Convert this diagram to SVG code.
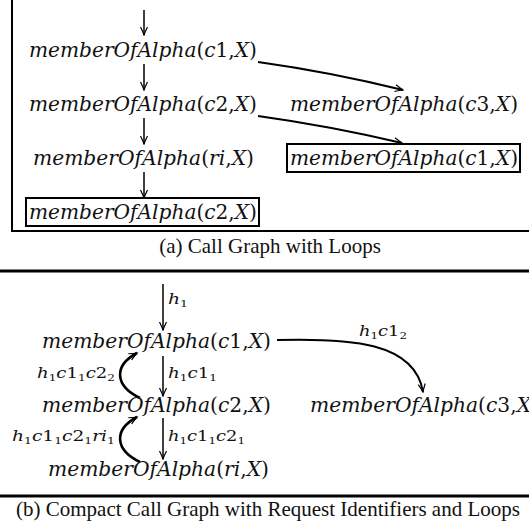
<svg xmlns="http://www.w3.org/2000/svg" width="529" height="527" viewBox="0 0 529 527">
<style>
.m{font-family:"DejaVu Serif","Liberation Serif",serif;font-style:italic;font-size:20px;fill:#111}
.r{font-style:normal}
.lb{font-family:"DejaVu Serif","Liberation Serif",serif;font-style:italic;font-size:15px;fill:#111}
.s{font-size:10px;font-style:normal}
.cap{font-family:"Liberation Serif","Times New Roman",serif;font-size:21px;fill:#111}
.e{fill:none;stroke:#000;stroke-width:1.5}
.ek{fill:none;stroke:#000;stroke-width:2}
.eb{fill:none;stroke:#000;stroke-width:2.6}
.box{fill:none;stroke:#000;stroke-width:2}
.rule{stroke:#000;stroke-width:3}
</style>
<defs>
<marker id="v" viewBox="-10 -5 11 10" markerWidth="11" markerHeight="10" refX="0" refY="0" orient="auto" markerUnits="userSpaceOnUse">
<path d="M-8,-3.5 Q-3,-1 0,0 Q-3,1 -8,3.5" fill="none" stroke="#000" stroke-width="1.2"/>
</marker>
</defs>
<rect width="529" height="527" fill="#fff"/>

<g id="frameA">
<path d="M12,0 V231 H529" fill="none" stroke="#000" stroke-width="2"/>
</g>

<g id="connectorsA">
<path class="e" d="M144,10 V35" marker-end="url(#v)"/>
<path class="e" d="M144,64 V90" marker-end="url(#v)"/>
<path class="e" d="M144,118 V144" marker-end="url(#v)"/>
<path class="e" d="M144,172 V198" marker-end="url(#v)"/>
<path class="ek" d="M258,62 Q330,72 403,90" marker-end="url(#v)"/>
<path class="ek" d="M258,116 Q330,126 402,143" marker-end="url(#v)"/>
</g>

<g id="a_c1"><text class="m" x="29" y="57" textLength="228" lengthAdjust="spacingAndGlyphs">memberOfAlpha<tspan class="r">(</tspan>c<tspan class="r">1,</tspan>X<tspan class="r">)</tspan></text></g>
<g id="a_c2"><text class="m" x="29" y="111" textLength="228" lengthAdjust="spacingAndGlyphs">memberOfAlpha<tspan class="r">(</tspan>c<tspan class="r">2,</tspan>X<tspan class="r">)</tspan></text></g>
<g id="a_c3"><text class="m" x="290" y="111" textLength="228" lengthAdjust="spacingAndGlyphs">memberOfAlpha<tspan class="r">(</tspan>c<tspan class="r">3,</tspan>X<tspan class="r">)</tspan></text></g>
<g id="a_ri"><text class="m" x="33" y="165" textLength="221" lengthAdjust="spacingAndGlyphs">memberOfAlpha<tspan class="r">(</tspan>ri<tspan class="r">,</tspan>X<tspan class="r">)</tspan></text></g>
<g id="a_c1box"><rect class="box" x="287" y="144" width="233" height="28"/><text class="m" x="290" y="165" textLength="228" lengthAdjust="spacingAndGlyphs">memberOfAlpha<tspan class="r">(</tspan>c<tspan class="r">1,</tspan>X<tspan class="r">)</tspan></text></g>
<g id="a_c2box"><rect class="box" x="26" y="198" width="233" height="28"/><text class="m" x="29" y="219" textLength="228" lengthAdjust="spacingAndGlyphs">memberOfAlpha<tspan class="r">(</tspan>c<tspan class="r">2,</tspan>X<tspan class="r">)</tspan></text></g>

<text class="cap" x="270" y="253" text-anchor="middle">(a)  Call Graph with Loops</text>

<line class="rule" x1="0" y1="271" x2="529" y2="271"/>

<g id="connectorsB">
<path class="e" d="M163,284 V330" marker-end="url(#v)"/>
<path class="e" d="M163,356 V396" marker-end="url(#v)"/>
<path class="e" d="M163,418 V459" marker-end="url(#v)"/>
<path class="ek" d="M277,340 C350,338 415,342 423,392" marker-end="url(#v)"/>
<path class="eb" d="M140,398 C115,386 113,366 137,353" marker-end="url(#v)"/>
<path class="eb" d="M140,462 C115,450 113,430 137,417" marker-end="url(#v)"/>
</g>

<g id="labelsB">
<text class="lb" x="168" y="304" textLength="20" lengthAdjust="spacingAndGlyphs">h<tspan class="s" dy="3">1</tspan></text>
<text class="lb" x="359" y="336" textLength="48" lengthAdjust="spacingAndGlyphs">h<tspan class="s" dy="3">1</tspan><tspan dy="-3">c</tspan><tspan class="r">1</tspan><tspan class="s" dy="3">2</tspan></text>
<text class="lb" x="37" y="378" textLength="78" lengthAdjust="spacingAndGlyphs">h<tspan class="s" dy="3">1</tspan><tspan dy="-3">c</tspan><tspan class="r">1</tspan><tspan class="s" dy="3">1</tspan><tspan dy="-3">c</tspan><tspan class="r">2</tspan><tspan class="s" dy="3">2</tspan></text>
<text class="lb" x="168" y="378" textLength="49" lengthAdjust="spacingAndGlyphs">h<tspan class="s" dy="3">1</tspan><tspan dy="-3">c</tspan><tspan class="r">1</tspan><tspan class="s" dy="3">1</tspan></text>
<text class="lb" x="12" y="441" textLength="103" lengthAdjust="spacingAndGlyphs">h<tspan class="s" dy="3">1</tspan><tspan dy="-3">c</tspan><tspan class="r">1</tspan><tspan class="s" dy="3">1</tspan><tspan dy="-3">c</tspan><tspan class="r">2</tspan><tspan class="s" dy="3">1</tspan><tspan dy="-3">ri</tspan><tspan class="s" dy="3">1</tspan></text>
<text class="lb" x="168" y="441" textLength="77" lengthAdjust="spacingAndGlyphs">h<tspan class="s" dy="3">1</tspan><tspan dy="-3">c</tspan><tspan class="r">1</tspan><tspan class="s" dy="3">1</tspan><tspan dy="-3">c</tspan><tspan class="r">2</tspan><tspan class="s" dy="3">1</tspan></text>
</g>

<g id="b_c1"><text class="m" x="42" y="348" textLength="229" lengthAdjust="spacingAndGlyphs">memberOfAlpha<tspan class="r">(</tspan>c<tspan class="r">1,</tspan>X<tspan class="r">)</tspan></text></g>
<g id="b_c2"><text class="m" x="42" y="412" textLength="229" lengthAdjust="spacingAndGlyphs">memberOfAlpha<tspan class="r">(</tspan>c<tspan class="r">2,</tspan>X<tspan class="r">)</tspan></text></g>
<g id="b_c3"><text class="m" x="310" y="412" textLength="229" lengthAdjust="spacingAndGlyphs">memberOfAlpha<tspan class="r">(</tspan>c<tspan class="r">3,</tspan>X<tspan class="r">)</tspan></text></g>
<g id="b_ri"><text class="m" x="48" y="476" textLength="221" lengthAdjust="spacingAndGlyphs">memberOfAlpha<tspan class="r">(</tspan>ri<tspan class="r">,</tspan>X<tspan class="r">)</tspan></text></g>

<line class="rule" x1="0" y1="496" x2="529" y2="496"/>
<text class="cap" x="268" y="516" text-anchor="middle">(b)  Compact Call Graph with Request Identifiers and Loops</text>
</svg>
